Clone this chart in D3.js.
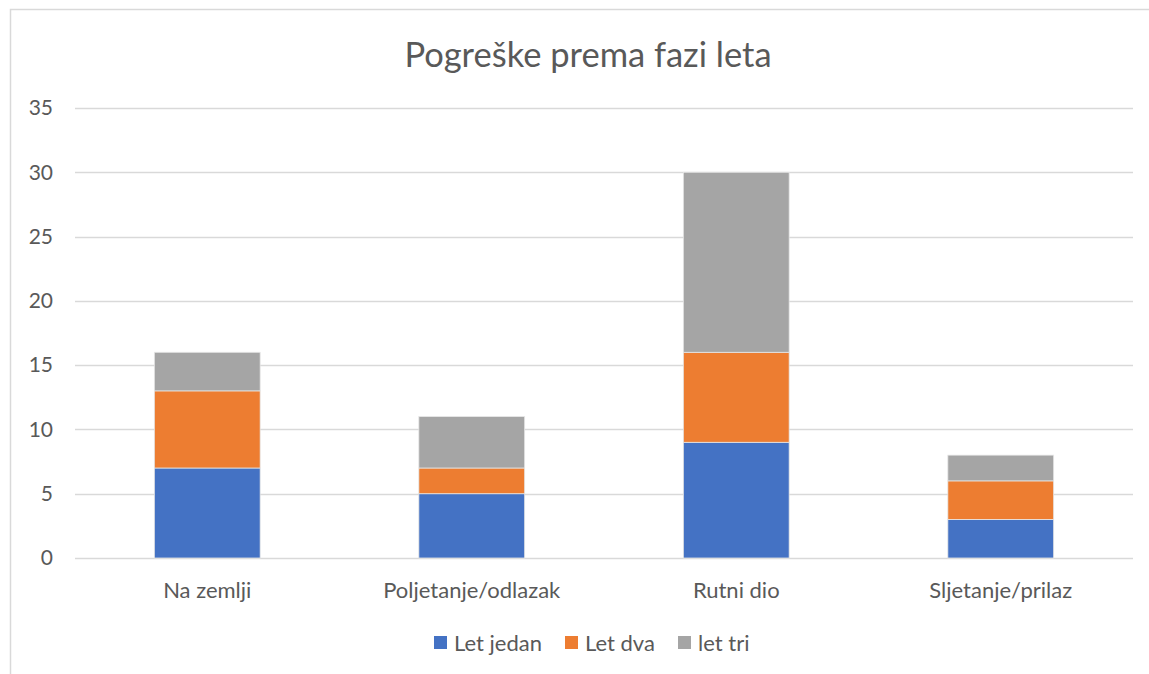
<!DOCTYPE html>
<meta charset="utf-8">
<head>
    <title>Pogreške prema fazi leta</title>
    <script src="https://d3js.org/d3.v7.min.js"></script>
    <style>
        body {
            margin: 0;
            background-color: white;
        }

        svg text {
            font-family: Lato, "Open Sans", sans-serif;
            fill: #595959;
        }
    </style>
</head>

<body>
    <svg id="svg"></svg>

    <script>
        // data
        const categories = ['Na zemlji', 'Poljetanje/odlazak', 'Rutni dio', 'Sljetanje/prilaz']
        const seriesNames = ['Let jedan', 'Let dva', 'let tri']
        const letJedan = [7, 5, 9, 3]
        const letDva = [6, 2, 7, 3]
        const letTri = [3, 4, 14, 2]
        const yTicks = [0, 5, 10, 15, 20, 25, 30, 35]
        const colors = ['#4472c4', '#ed7d31', '#a5a5a5']

        const width = 1149
        const height = 674
        const margin = { top: 108, right: 16, bottom: 116, left: 75 }

        let svg = d3.select('#svg')
            .attr('width', width)
            .attr('height', height)

        // chart frame (cut off at right and bottom like the screenshot)
        svg.append('rect')
            .attr('x', 10.5)
            .attr('y', 9.5)
            .attr('width', width + 20)
            .attr('height', height + 20)
            .attr('fill', 'white')
            .attr('stroke', '#d9d9d9')
            .attr('stroke-width', 1.5)

        svg.append('text')
            .attr('x', 588)
            .attr('y', 67)
            .attr('text-anchor', 'middle')
            .style('font-size', '34.5px')
            .text('Pogreške prema fazi leta')

        let table = categories.map((c, i) => ({
            cat: c,
            'Let jedan': letJedan[i],
            'Let dva': letDva[i],
            'let tri': letTri[i]
        }))
        let stacked = d3.stack().keys(seriesNames)(table)

        let x = d3.scaleBand()
            .domain(categories)
            .range([margin.left, width - margin.right])
        let y = d3.scaleLinear()
            .domain([0, 35])
            .range([height - margin.bottom, margin.top])

        // gridlines
        svg.append('g')
            .selectAll('line')
            .data(yTicks)
            .enter()
            .append('line')
            .attr('x1', margin.left)
            .attr('x2', width - margin.right)
            .attr('y1', d => Math.round(y(d)) + 0.5)
            .attr('y2', d => Math.round(y(d)) + 0.5)
            .attr('stroke', '#d9d9d9')
            .attr('stroke-width', 1.3)

        // y labels
        svg.append('g')
            .selectAll('text')
            .data(yTicks)
            .enter()
            .append('text')
            .attr('x', 53)
            .attr('y', d => y(d))
            .attr('dy', '0.35em')
            .attr('text-anchor', 'end')
            .style('font-size', '21px')
            .text(d => d)

        // bars
        let barW = x.bandwidth() * 0.4
        svg.append('g')
            .selectAll('g')
            .data(stacked)
            .enter()
            .append('g')
            .attr('fill', (d, i) => colors[i])
            .selectAll('rect')
            .data(d => d)
            .enter()
            .append('rect')
            .attr('x', d => x(d.data.cat) + (x.bandwidth() - barW) / 2)
            .attr('y', d => y(d[1]))
            .attr('width', barW)
            .attr('height', d => y(d[0]) - y(d[1]))
            .attr('stroke', '#e6e6e6')
            .attr('stroke-width', 0.8)

        // category labels
        svg.append('g')
            .selectAll('text')
            .data(categories)
            .enter()
            .append('text')
            .attr('x', d => x(d) + x.bandwidth() / 2)
            .attr('y', 598)
            .attr('text-anchor', 'middle')
            .style('font-size', '22px')
            .text(d => d)

        // legend
        const legendX = [434, 565, 678]
        let legend = svg.append('g')
            .selectAll('g')
            .data(seriesNames)
            .enter()
            .append('g')
            .attr('transform', (d, i) => 'translate(' + legendX[i] + ',636)')
        legend.append('rect')
            .attr('width', 13)
            .attr('height', 13)
            .attr('fill', (d, i) => colors[i])
        legend.append('text')
            .attr('x', 20)
            .attr('y', 7)
            .attr('dy', '0.35em')
            .style('font-size', '22px')
            .text(d => d)
    </script>
</body>
</html>
